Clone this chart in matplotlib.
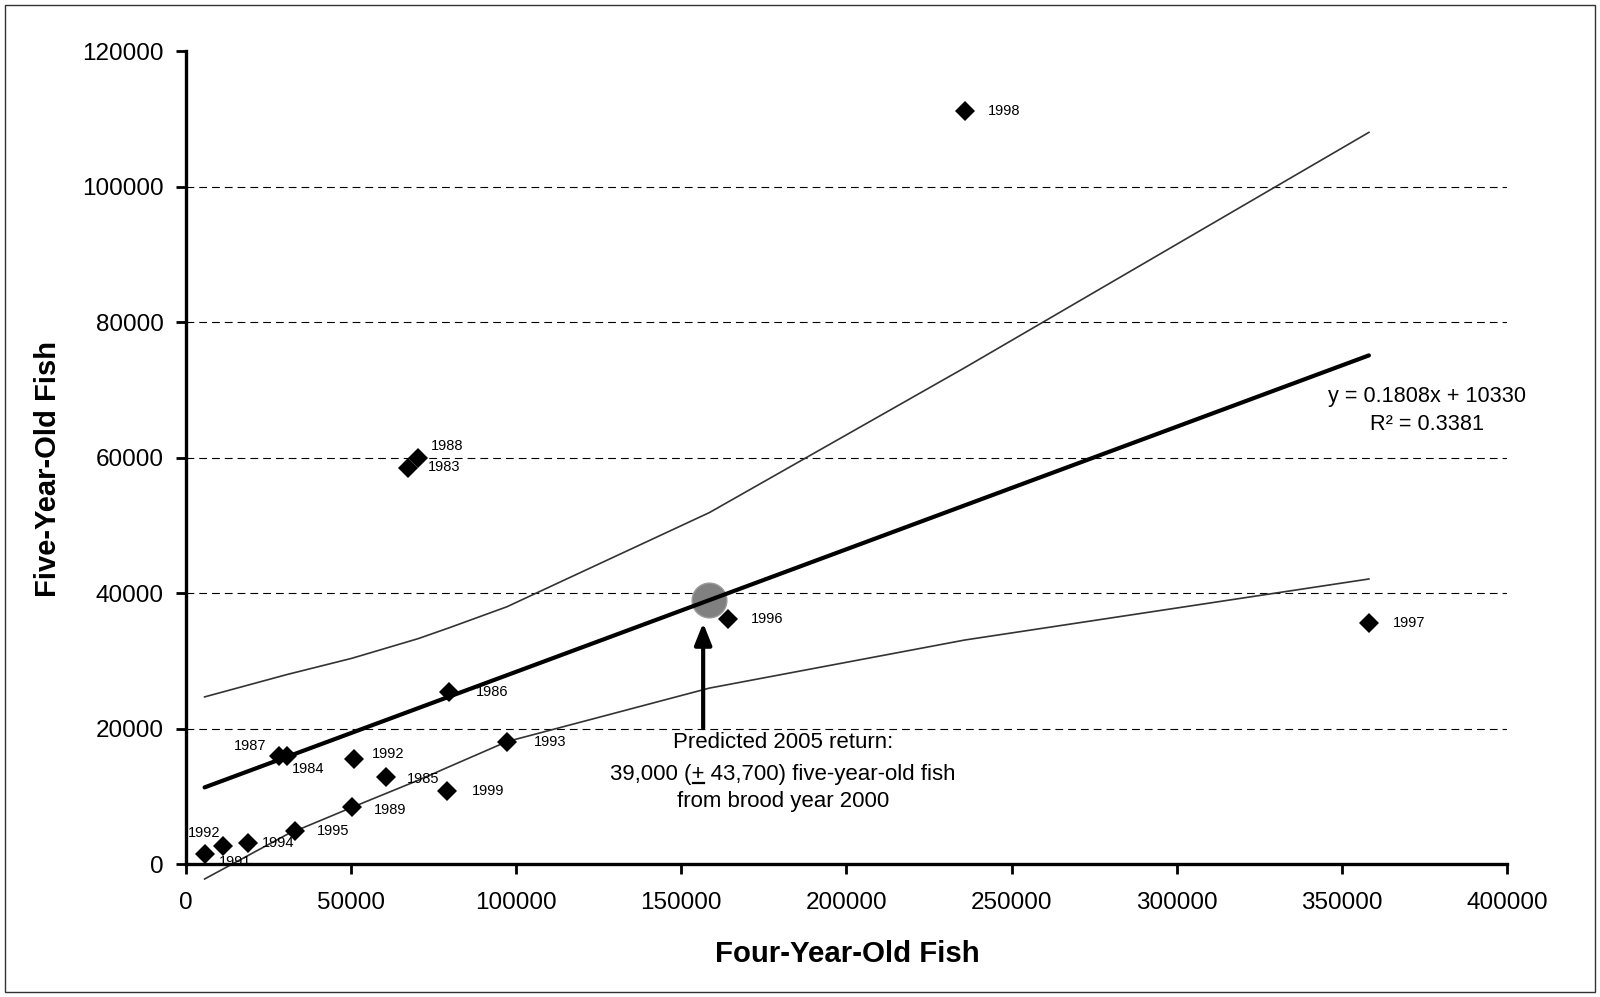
"""Four-year-old vs five-year-old fish returns with regression and prediction band."""

import matplotlib

matplotlib.use("Agg")
import matplotlib.pyplot as plt
from matplotlib.lines import Line2D
from matplotlib.patches import Rectangle
from matplotlib.ticker import FormatStrFormatter

# Brood-year data points
years = ["1998", "1997", "1996", "1986", "1993", "1999", "1989", "1995", "1994",
         "1991", "1992", "1987", "1984", "1992", "1985", "1983", "1988"]
four_year = [235900, 358200, 164160, 79700, 97170, 79100, 50250, 32870, 18650,
             11200, 5630, 28030, 30570, 50730, 60540, 67290, 70320]
five_year = [111190, 35650, 36190, 25420, 18090, 10815, 8410, 4960, 3100,
             2745, 1475, 15980, 15980, 15490, 12840, 58470, 59950]

# Regression line and prediction band
fit_x = [5630, 358200]
slope, intercept = 0.1808, 10330
band_x = [5630, 30570, 50250, 70320, 79700, 97170, 158500, 235900, 358200]
band_upper = [24700, 28000, 30400, 33300, 34900, 38000, 51900, 73300, 108000]
band_lower = [-2170, 4400, 8400, 12400, 14400, 18100, 26000, 33100, 42100]

# Predicted 2005 return
pred_x, pred_y = 158500, 39000
arrow_x, arrow_y0, arrow_y1 = 156600, 20100, 35600

# label offsets (pixels) relative to each point: dx, dy, ha
label_offsets = [
    (23, 0, "left"), (24, 0, "left"), (23, 0, "left"), (27, 0, "left"),
    (27, 0, "left"), (25, 0, "left"), (22, -3, "left"), (22, 0, "left"),
    (14, 0, "left"), (-4, -16, "left"), (0, 21, "center"), (-12, 10, "right"),
    (5, -13, "left"), (18, 5, "left"), (21, -2, "left"), (20, 1, "left"),
    (13, 12, "left"),
]

plt.rcParams["font.family"] = ["Liberation Sans", "DejaVu Sans"]

fig = plt.figure(figsize=(16, 9.97), dpi=100)
ax = fig.add_axes([0.11625, 0.1331, 0.8256, 0.8157])

ax.set_xlim(0, 400000)
ax.set_ylim(0, 120000)

px = 72 / 100  # pixels -> points

# dashed gridlines
for gy in [20000, 40000, 60000, 80000, 100000]:
    ax.axhline(gy, color="black", lw=0.8, ls=(0, (7, 4.5)), zorder=1)

# prediction band
ax.plot(band_x, band_upper, color="#333333", lw=1.2, zorder=2)
ax.plot(band_x, band_lower, color="#333333", lw=1.2, zorder=2, clip_on=False)

# regression line
fit_y = [slope * v + intercept for v in fit_x]
ax.plot(fit_x, fit_y, color="black", lw=3, zorder=3, solid_capstyle="round")

# predicted point
ax.plot([pred_x], [pred_y], "o", ms=25, color="#808080", mec="#9a9a9a", zorder=2.5)

# data points
ax.plot(four_year, five_year, "D", ms=10.5, color="black", mew=0, zorder=4,
        clip_on=False, ls="none")

for yr, xv, yv, (dx, dy, ha) in zip(years, four_year, five_year, label_offsets):
    ax.annotate(yr, (xv, yv), xytext=(dx * px, dy * px), textcoords="offset points",
                ha=ha, va="center", fontsize=10.5, zorder=5)

# arrow
ax.annotate("", xy=(arrow_x, arrow_y1), xytext=(arrow_x, arrow_y0),
            arrowprops=dict(arrowstyle="-|>,head_length=0.5,head_width=0.2",
                            lw=3, color="black", mutation_scale=26,
                            shrinkA=0, shrinkB=0))

ax.set_xticks(range(0, 400001, 50000))
ax.set_yticks(range(0, 120001, 20000))
ax.xaxis.set_major_formatter(FormatStrFormatter("%d"))
ax.yaxis.set_major_formatter(FormatStrFormatter("%d"))
ax.tick_params(axis="both", direction="out", length=7, width=2, labelsize=17.5)
ax.tick_params(axis="x", pad=13)
ax.tick_params(axis="y", pad=9)

for side in ["top", "right"]:
    ax.spines[side].set_visible(False)
for side in ["left", "bottom"]:
    ax.spines[side].set_linewidth(2.4)

# prediction note, the "+" is underlined like in the original
note_x = 180800
note_fs = 16
ax.text(note_x, 17900, "Predicted 2005 return:", ha="center", va="center", fontsize=note_fs)
mid = ax.text(note_x, 13550, "39,000 (+ 43,700) five-year-old fish", ha="center",
              va="baseline", fontsize=note_fs)
ax.text(note_x, 9330, "from brood year 2000", ha="center", va="center", fontsize=note_fs)
# put the middle line's visual centre where the other lines expect it
mid.set_y(13550 - 1100)

renderer = fig.canvas.get_renderer()
full_bb = mid.get_window_extent(renderer)
tmp = ax.text(0, 0, "39,000 (", fontsize=note_fs)
pre_w = tmp.get_window_extent(renderer).width
tmp.set_text("39,000 (+")
plus_end = tmp.get_window_extent(renderer).width
tmp.remove()
base_y = ax.transData.transform((note_x, 13550 - 1100))[1]
inv = fig.transFigure.inverted()
(fx0, fy0), (fx1, _) = inv.transform([(full_bb.x0 + pre_w + 1, base_y - 3),
                                      (full_bb.x0 + plus_end - 1, base_y - 3)])
fig.add_artist(Line2D([fx0, fx1], [fy0, fy0], color="black", lw=1.6,
                      transform=fig.transFigure))

ax.text(375900, 68960, "y = 0.1808x + 10330", ha="center", va="center", fontsize=15.6)
ax.text(375900, 64890, "R² = 0.3381", ha="center", va="center", fontsize=15.6)

fig.text(847 / 1600, 1 - 954 / 997, "Four-Year-Old Fish", ha="center", va="center",
         fontsize=21.2, fontweight="bold")
fig.text(48 / 1600, 1 - 469 / 997, "Five-Year-Old Fish", ha="center", va="center",
         fontsize=21, fontweight="bold", rotation=90)

# border around the figure
fig.patches.append(Rectangle((5 / 1600, 5 / 997), 1590 / 1600, 987 / 997,
                             transform=fig.transFigure, fill=False,
                             edgecolor="#333333", lw=1))

fig.savefig("out.png", dpi=100)
